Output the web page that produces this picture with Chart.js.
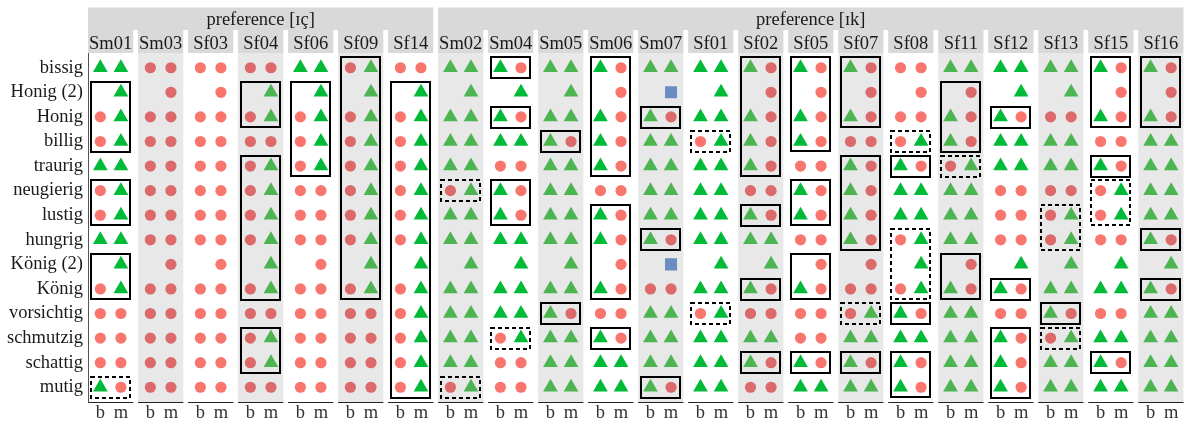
<!DOCTYPE html>
<html>
<head>
<meta charset="utf-8">
<script src="https://cdn.jsdelivr.net/npm/chart.js@4.4.1/dist/chart.umd.min.js"></script>
<style>
  html, body { margin: 0; padding: 0; background: #fff; overflow: hidden; }
  canvas { display: block; }
</style>
</head>
<body>
<canvas id="chart" width="1192" height="422"></canvas>
<script>
// ---- data -------------------------------------------------------------
const words = ['bissig', 'Honig (2)', 'Honig', 'billig', 'traurig', 'neugierig', 'lustig',
               'hungrig', 'König (2)', 'König', 'vorsichtig', 'schmutzig', 'schattig', 'mutig'];
const columns = ['b', 'm'];
const groups = ['preference [ɪç]', 'preference [ɪk]'];
const groupSizes = [7, 15];
const speakers = ['Sm01', 'Sm03', 'Sf03', 'Sf04', 'Sf06', 'Sf09', 'Sf14',
                  'Sm02', 'Sm04', 'Sm05', 'Sm06', 'Sm07', 'Sf01', 'Sf02', 'Sf05',
                  'Sf07', 'Sf08', 'Sf11', 'Sf12', 'Sf13', 'Sf15', 'Sf16'];

// one entry per word: response in column b, then column m
// k = [ɪk] (triangle), c = [ɪç] (circle), x = other (square), . = no token
const Sm01 = ['kk', '.k', 'ck', 'ck', 'kk', 'ck', 'ck', 'kk', '.k', 'ck', 'cc', 'cc', 'cc', 'kc'];
const Sm03 = ['cc', '.c', 'cc', 'cc', 'cc', 'cc', 'cc', 'cc', '.c', 'cc', 'cc', 'cc', 'cc', 'cc'];
const Sf03 = ['cc', '.c', 'cc', 'cc', 'cc', 'cc', 'cc', 'cc', '.c', 'cc', 'cc', 'cc', 'cc', 'cc'];
const Sf04 = ['cc', '.k', 'ck', 'cc', 'ck', 'ck', 'ck', 'ck', '.k', 'ck', 'cc', 'ck', 'ck', 'cc'];
const Sf06 = ['kk', '.k', 'ck', 'ck', 'ck', 'cc', 'cc', 'cc', '.c', 'cc', 'cc', 'cc', 'cc', 'cc'];
const Sf09 = ['ck', '.k', 'ck', 'ck', 'ck', 'ck', 'ck', 'ck', '.k', 'ck', 'cc', 'cc', 'cc', 'cc'];
const Sf14 = ['cc', '.k', 'ck', 'ck', 'ck', 'ck', 'ck', 'ck', '.k', 'ck', 'ck', 'ck', 'ck', 'ck'];
const Sm02 = ['kk', '.k', 'kk', 'kk', 'kk', 'ck', 'kk', 'kk', '.k', 'kk', 'kk', 'kk', 'kk', 'ck'];
const Sm04 = ['kc', '.k', 'kc', 'kk', 'cc', 'kc', 'kc', 'kk', '.k', 'kk', 'kk', 'ck', 'cc', 'cc'];
const Sm05 = ['kk', '.k', 'kk', 'kc', 'kk', 'kk', 'kk', 'kk', '.k', 'kk', 'kc', 'kk', 'kk', 'kk'];
const Sm06 = ['kc', '.c', 'kc', 'kc', 'kc', 'cc', 'kc', 'kc', '.c', 'kc', 'cc', 'kc', 'kk', 'kk'];
const Sm07 = ['kk', '.x', 'kc', 'kk', 'kk', 'kk', 'kk', 'kc', '.x', 'cc', 'kk', 'kk', 'kk', 'kc'];
const Sf01 = ['kk', '.k', 'kk', 'ck', 'kk', 'kk', 'kk', 'kk', '.k', 'kk', 'ck', 'kk', 'kk', 'kk'];
const Sf02 = ['kc', '.c', 'kc', 'kc', 'kc', 'cc', 'kc', 'kk', '.k', 'kc', 'cc', 'kk', 'kc', 'cc'];
const Sf05 = ['kc', '.c', 'kc', 'kc', 'cc', 'kc', 'kc', 'cc', '.c', 'kc', 'cc', 'cc', 'kc', 'kk'];
const Sf07 = ['kc', '.c', 'kc', 'cc', 'kc', 'kc', 'kc', 'kc', '.c', 'cc', 'ck', 'kk', 'kc', 'kk'];
const Sf08 = ['cc', '.c', 'cc', 'ck', 'kc', 'kk', 'kk', 'ck', '.k', 'ck', 'kc', 'kk', 'kc', 'kc'];
const Sf11 = ['kk', '.c', 'kc', 'kc', 'ck', 'kk', 'kk', 'kk', '.c', 'kc', 'kk', 'kk', 'kk', 'kk'];
const Sf12 = ['kk', '.k', 'kc', 'kk', 'kk', 'cc', 'cc', 'cc', '.k', 'kc', 'cc', 'kc', 'kc', 'kc'];
const Sf13 = ['kk', '.k', 'cc', 'kk', 'kk', 'cc', 'ck', 'ck', '.k', 'kk', 'kc', 'ck', 'kk', 'kk'];
const Sf15 = ['kc', '.c', 'kc', 'cc', 'kc', 'ck', 'ck', 'cc', '.k', 'kk', 'cc', 'kk', 'kc', 'kk'];
const Sf16 = ['kc', '.c', 'kc', 'kk', 'kk', 'kk', 'kk', 'kc', '.k', 'kc', 'kk', 'kk', 'kk', 'kk'];

// framed word ranges per speaker: [first word, last word, 'dashed' for the marked ones]
const Sm01Boxes = [['Honig (2)', 'billig'], ['neugierig', 'lustig'], ['König (2)', 'König'], ['mutig', 'mutig', 'dashed']];
const Sm03Boxes = [];
const Sf03Boxes = [];
const Sf04Boxes = [['Honig (2)', 'Honig'], ['traurig', 'König'], ['schmutzig', 'schattig']];
const Sf06Boxes = [['Honig (2)', 'traurig']];
const Sf09Boxes = [['bissig', 'König']];
const Sf14Boxes = [['Honig (2)', 'mutig']];
const Sm02Boxes = [['neugierig', 'neugierig', 'dashed'], ['mutig', 'mutig', 'dashed']];
const Sm04Boxes = [['bissig', 'bissig'], ['Honig', 'Honig'], ['neugierig', 'lustig'], ['schmutzig', 'schmutzig', 'dashed']];
const Sm05Boxes = [['billig', 'billig'], ['vorsichtig', 'vorsichtig']];
const Sm06Boxes = [['bissig', 'traurig'], ['lustig', 'König'], ['schmutzig', 'schmutzig']];
const Sm07Boxes = [['Honig', 'Honig'], ['hungrig', 'hungrig'], ['mutig', 'mutig']];
const Sf01Boxes = [['billig', 'billig', 'dashed'], ['vorsichtig', 'vorsichtig', 'dashed']];
const Sf02Boxes = [['bissig', 'traurig'], ['lustig', 'lustig'], ['König', 'König'], ['schattig', 'schattig']];
const Sf05Boxes = [['bissig', 'billig'], ['neugierig', 'lustig'], ['König (2)', 'König'], ['schattig', 'schattig']];
const Sf07Boxes = [['bissig', 'Honig'], ['traurig', 'hungrig'], ['vorsichtig', 'vorsichtig', 'dashed'], ['schattig', 'schattig']];
const Sf08Boxes = [['billig', 'billig', 'dashed'], ['traurig', 'traurig'], ['hungrig', 'König', 'dashed'], ['vorsichtig', 'vorsichtig'], ['schattig', 'mutig']];
const Sf11Boxes = [['Honig (2)', 'billig'], ['traurig', 'traurig', 'dashed'], ['König (2)', 'König']];
const Sf12Boxes = [['Honig', 'Honig'], ['König', 'König'], ['schmutzig', 'mutig']];
const Sf13Boxes = [['lustig', 'hungrig', 'dashed'], ['vorsichtig', 'vorsichtig'], ['schmutzig', 'schmutzig', 'dashed']];
const Sf15Boxes = [['bissig', 'Honig'], ['traurig', 'traurig'], ['neugierig', 'lustig', 'dashed'], ['schattig', 'schattig']];
const Sf16Boxes = [['bissig', 'Honig'], ['hungrig', 'hungrig'], ['König', 'König']];

const responses = [Sm01, Sm03, Sf03, Sf04, Sf06, Sf09, Sf14, Sm02, Sm04, Sm05, Sm06,
                   Sm07, Sf01, Sf02, Sf05, Sf07, Sf08, Sf11, Sf12, Sf13, Sf15, Sf16];
const frames = [Sm01Boxes, Sm03Boxes, Sf03Boxes, Sf04Boxes, Sf06Boxes, Sf09Boxes, Sf14Boxes,
                Sm02Boxes, Sm04Boxes, Sm05Boxes, Sm06Boxes, Sm07Boxes, Sf01Boxes, Sf02Boxes,
                Sf05Boxes, Sf07Boxes, Sf08Boxes, Sf11Boxes, Sf12Boxes, Sf13Boxes, Sf15Boxes, Sf16Boxes];

// ---- layout on the shared x axis (in axis units) -----------------------
const PANEL = 2.2;          // two columns plus 0.6 padding on each side
const GAP = 0.232;          // white space between facets
const PITCH = PANEL + GAP;
const panelStart = p => p * PITCH;
const colPos = (p, j) => p * PITCH + 0.6 + j;
const isGrayPanel = p => p % 2 === 1;
const rowOf = w => words.indexOf(w) + 1;

const FONT = "'Liberation Serif', 'DejaVu Serif', serif";
const FONT_SIZE = 18.5;

function points(code) {
  const out = [];
  responses.forEach((rows, p) => rows.forEach((pair, r) => [...pair].forEach((ch, j) => {
    if (ch === code) out.push({ x: colPos(p, j), y: r + 1, p });
  })));
  return out;
}

const shade = (white, gray) => c => (c.raw && isGrayPanel(c.raw.p)) ? gray : white;

// facet backgrounds, strips, header bands, per-facet bottom axis lines, frames
const facetPlugin = {
  id: 'facets',
  beforeDraw(chart) {
    const { ctx, chartArea: a, scales: { x } } = chart;
    ctx.save();
    ctx.fillStyle = '#fff';
    ctx.fillRect(0, 0, chart.width, chart.height);

    const headTop = 7.5, stripTop = 30, stripBottom = a.top;
    ctx.font = `${FONT_SIZE}px ${FONT}`;
    ctx.textAlign = 'center';
    ctx.textBaseline = 'alphabetic';
    // group header bands
    let first = 0;
    groups.forEach((g, gi) => {
      const last = first + groupSizes[gi] - 1;
      const x0 = x.getPixelForValue(panelStart(first));
      const x1 = x.getPixelForValue(panelStart(last) + PANEL);
      ctx.fillStyle = '#d9d9d9';
      ctx.fillRect(x0, headTop, x1 - x0, stripTop - headTop);
      ctx.fillStyle = '#1a1a1a';
      ctx.fillText(g, (x0 + x1) / 2, 25);
      first = last + 1;
    });

    speakers.forEach((s, p) => {
      const x0 = x.getPixelForValue(panelStart(p));
      const x1 = x.getPixelForValue(panelStart(p) + PANEL);
      // strip
      ctx.fillStyle = '#d9d9d9';
      ctx.fillRect(x0, stripTop, x1 - x0, stripBottom - stripTop);
      ctx.fillStyle = '#1a1a1a';
      ctx.fillText(s, (x0 + x1) / 2, 48.5);
      // panel background
      if (isGrayPanel(p)) {
        ctx.fillStyle = '#e8e8e8';
        ctx.fillRect(x0, a.top, x1 - x0, a.bottom - a.top);
      }
      // bottom axis line of this facet
      ctx.strokeStyle = '#222';
      ctx.lineWidth = 1;
      ctx.beginPath();
      ctx.moveTo(x0, a.bottom + 0.5);
      ctx.lineTo(x1, a.bottom + 0.5);
      ctx.stroke();
    });
    ctx.restore();
  },
  afterDatasetsDraw(chart) {
    const { ctx, scales: { x, y } } = chart;
    ctx.save();
    ctx.strokeStyle = '#000';
    ctx.lineWidth = 2;
    frames.forEach((list, p) => list.forEach(([from, to, style]) => {
      const x0 = x.getPixelForValue(colPos(p, 0) - 0.45);
      const x1 = x.getPixelForValue(colPos(p, 1) + 0.45);
      const y0 = y.getPixelForValue(rowOf(from) - 0.42);
      const y1 = y.getPixelForValue(rowOf(to) + 0.42);
      ctx.setLineDash(style === 'dashed' ? [4, 3] : []);
      ctx.strokeRect(Math.round(x0), Math.round(y0), Math.round(x1 - x0), Math.round(y1 - y0));
    }));
    ctx.restore();
  }
};

new Chart(document.getElementById('chart'), {
  type: 'scatter',
  data: {
    datasets: [
      {
        label: '[ɪk]', data: points('k'), pointStyle: 'triangle', pointRadius: 8.5,
        pointBackgroundColor: shade('#00ba38', '#4cb552'), pointBorderWidth: 0
      },
      {
        label: '[ɪç]', data: points('c'), pointStyle: 'circle', pointRadius: 5.6,
        pointBackgroundColor: shade('#f8766d', '#dc6a6a'), pointBorderWidth: 0
      },
      {
        label: 'other', data: points('x'), pointStyle: 'rect', pointRadius: 8.5,
        pointBackgroundColor: '#6b8cc2', pointBorderWidth: 0
      }
    ]
  },
  options: {
    responsive: false,
    animation: false,
    events: [],
    layout: { padding: { top: 53, left: 0, right: 0, bottom: 0 } },
    plugins: { legend: { display: false }, tooltip: { enabled: false } },
    scales: {
      x: {
        type: 'linear',
        min: 0,
        max: panelStart(speakers.length - 1) + PANEL,
        grid: { display: false, drawTicks: false },
        border: { display: false },
        afterBuildTicks: s => {
          s.ticks = speakers.flatMap((_, p) => columns.map((_, j) => ({ value: colPos(p, j) })));
        },
        afterFit: s => { s.height = 20; },
        ticks: {
          autoSkip: false, maxRotation: 0, minRotation: 0, padding: 0,
          font: { family: FONT, size: FONT_SIZE }, color: '#333',
          callback: (v, i) => columns[i % 2]
        }
      },
      y: {
        type: 'linear',
        reverse: true,
        min: 0.4,
        max: words.length + 0.6,
        grid: { display: false, drawTicks: false },
        border: { display: true, color: '#555', width: 1 },
        afterBuildTicks: s => { s.ticks = words.map((_, i) => ({ value: i + 1 })); },
        afterFit: s => { s.width = 88; },
        ticks: {
          autoSkip: false, padding: 5,
          font: { family: FONT, size: FONT_SIZE }, color: '#1a1a1a',
          callback: (v, i) => words[i]
        }
      }
    }
  },
  plugins: [facetPlugin]
});
</script>
</body>
</html>
